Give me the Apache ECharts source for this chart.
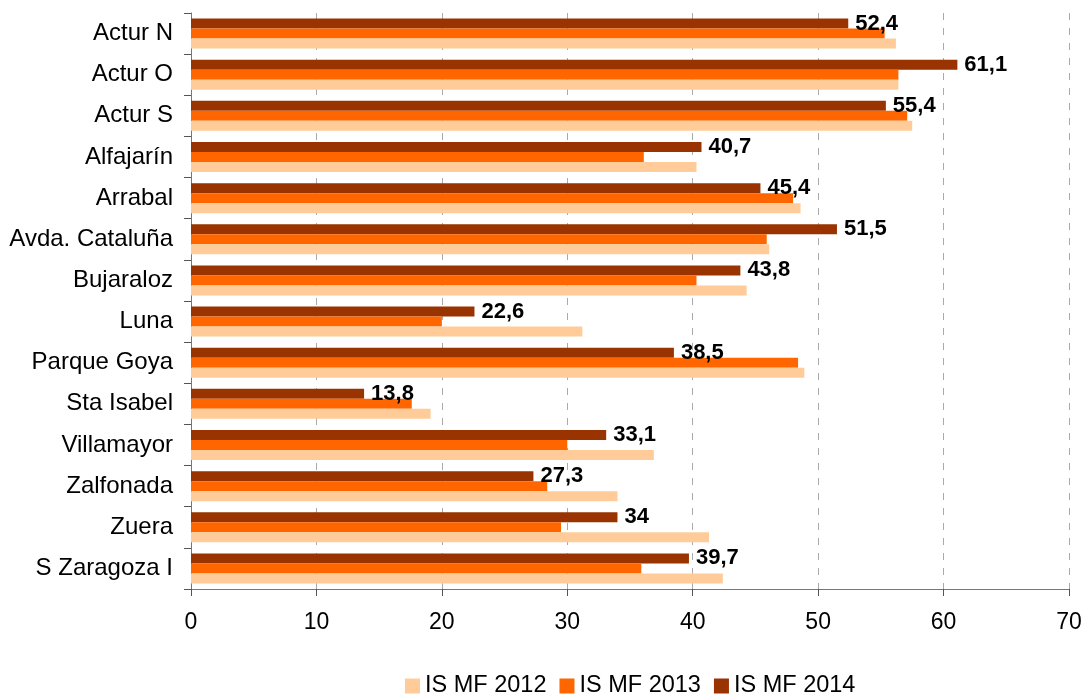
<!DOCTYPE html>
<html>
<head>
<meta charset="utf-8">
<script src="https://cdn.jsdelivr.net/npm/echarts@6/dist/echarts.min.js"></script>
<style>
html,body{margin:0;padding:0;background:#fff;}
#chart{width:1087px;height:695px;}
</style>
</head>
<body>
<div id="chart"></div>
<script>
const categories = ['Actur N','Actur O','Actur S','Alfajarín','Arrabal','Avda. Cataluña','Bujaraloz','Luna','Parque Goya','Sta Isabel','Villamayor','Zalfonada','Zuera','S Zaragoza I'];
const seriesNames = ['IS MF 2012','IS MF 2013','IS MF 2014'];
const values2012 = [56.2, 56.4, 57.5, 40.3, 48.6, 46.1, 44.3, 31.2, 48.9, 19.1, 36.9, 34.0, 41.3, 42.4];
const values2013 = [55.3, 56.4, 57.1, 36.1, 48.0, 45.9, 40.3, 20.0, 48.4, 17.6, 30.0, 28.4, 29.5, 35.9];
const values2014 = [52.4, 61.1, 55.4, 40.7, 45.4, 51.5, 43.8, 22.6, 38.5, 13.8, 33.1, 27.3, 34, 39.7];
const xTicks = {min: 0, max: 70, interval: 10};

const FONT = '"Liberation Sans", Arial, sans-serif';
const chart = echarts.init(document.getElementById('chart'), null, {renderer: 'canvas'});

function barSeries(name, data, color, withLabel) {
  return {
    name: name,
    type: 'bar',
    data: data,
    barWidth: 10,
    barGap: '0%',
    itemStyle: {color: color},
    label: withLabel ? {
      show: true,
      position: 'right',
      distance: 7,
      offset: [0, 0],
      color: '#000',
      fontFamily: FONT,
      fontWeight: 'bold',
      fontSize: 22,
      formatter: p => String(p.value).replace('.', ',')
    } : {show: false}
  };
}

chart.setOption({
  animation: false,
  backgroundColor: '#fff',
  grid: {left: 191, right: 18, top: 13, bottom: 106, containLabel: false},
  legend: {
    data: seriesNames,
    left: 405,
    top: 674,
    padding: 0,
    itemWidth: 15,
    itemHeight: 15,
    itemGap: 13,
    icon: 'rect',
    textStyle: {fontFamily: FONT, fontSize: 23.5, color: '#000'}
  },
  xAxis: {
    type: 'value',
    min: xTicks.min,
    max: xTicks.max,
    interval: xTicks.interval,
    axisLine: {show: true, lineStyle: {color: '#777', width: 1}},
    axisTick: {show: true, length: 7, inside: false, lineStyle: {color: '#555'}},
    axisLabel: {fontFamily: FONT, fontSize: 23, color: '#000', margin: 22},
    splitLine: {show: true, lineStyle: {color: '#aaa', type: [7, 8], width: 1}}
  },
  yAxis: {
    type: 'category',
    data: categories,
    inverse: true,
    axisLine: {show: true, lineStyle: {color: '#777', width: 1}},
    axisTick: {show: true, length: 7, alignWithLabel: false, lineStyle: {color: '#555'}},
    axisLabel: {fontFamily: FONT, fontSize: 24, color: '#000', margin: 18},
    splitLine: {show: false}
  },
  series: [
    barSeries('IS MF 2014', values2014, '#993300', true),
    barSeries('IS MF 2013', values2013, '#FF6600', false),
    barSeries('IS MF 2012', values2012, '#FFCC99', false)
  ]
});
</script>
</body>
</html>
